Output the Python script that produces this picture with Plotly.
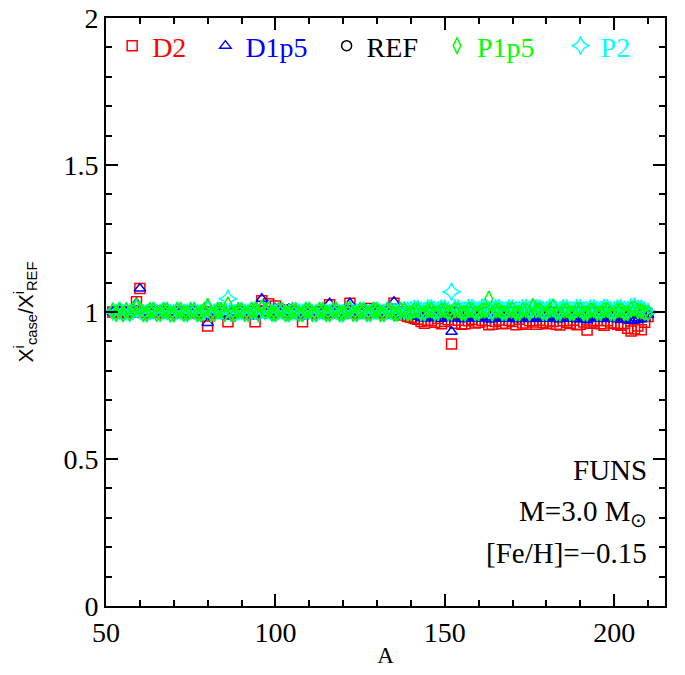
import plotly.graph_objects as go

# mass number A = 52 ... 210, one point per A
A = [52, 53, 54, 55, 56, 57, 58, 59, 60, 61,
     62, 63, 64, 65, 66, 67, 68, 69, 70, 71,
     72, 73, 74, 75, 76, 77, 78, 79, 80, 81,
     82, 83, 84, 85, 86, 87, 88, 89, 90, 91,
     92, 93, 94, 95, 96, 97, 98, 99, 100, 101,
     102, 103, 104, 105, 106, 107, 108, 109, 110, 111,
     112, 113, 114, 115, 116, 117, 118, 119, 120, 121,
     122, 123, 124, 125, 126, 127, 128, 129, 130, 131,
     132, 133, 134, 135, 136, 137, 138, 139, 140, 141,
     142, 143, 144, 145, 146, 147, 148, 149, 150, 151,
     152, 153, 154, 155, 156, 157, 158, 159, 160, 161,
     162, 163, 164, 165, 166, 167, 168, 169, 170, 171,
     172, 173, 174, 175, 176, 177, 178, 179, 180, 181,
     182, 183, 184, 185, 186, 187, 188, 189, 190, 191,
     192, 193, 194, 195, 196, 197, 198, 199, 200, 201,
     202, 203, 204, 205, 206, 207, 208, 209, 210]

REF = [1.0, 1.0, 1.0, 1.0, 1.0, 1.0, 1.0, 1.0, 1.0, 1.0,
       1.0, 1.0, 1.0, 1.0, 1.0, 1.0, 1.0, 1.0, 1.0, 1.0,
       1.0, 1.0, 1.0, 1.0, 1.0, 1.0, 1.0, 1.0, 1.0, 1.0,
       1.0, 1.0, 1.0, 1.0, 1.0, 1.0, 1.0, 1.0, 1.0, 1.0,
       1.0, 1.0, 1.0, 1.0, 1.0, 1.0, 1.0, 1.0, 1.0, 1.0,
       1.0, 1.0, 1.0, 1.0, 1.0, 1.0, 1.0, 1.0, 1.0, 1.0,
       1.0, 1.0, 1.0, 1.0, 1.0, 1.0, 1.0, 1.0, 1.0, 1.0,
       1.0, 1.0, 1.0, 1.0, 1.0, 1.0, 1.0, 1.0, 1.0, 1.0,
       1.0, 1.0, 1.0, 1.0, 1.0, 1.0, 1.0, 1.0, 1.0, 1.0,
       1.0, 1.0, 1.0, 1.0, 1.0, 1.0, 1.0, 1.0, 1.0, 1.0,
       1.0, 1.0, 1.0, 1.0, 1.0, 1.0, 1.0, 1.0, 1.0, 1.0,
       1.0, 1.0, 1.0, 1.0, 1.0, 1.0, 1.0, 1.0, 1.0, 1.0,
       1.0, 1.0, 1.0, 1.0, 1.0, 1.0, 1.0, 1.0, 1.0, 1.0,
       1.0, 1.0, 1.0, 1.0, 1.0, 1.0, 1.0, 1.0, 1.0, 1.0,
       1.0, 1.0, 1.0, 1.0, 1.0, 1.0, 1.0, 1.0, 1.0, 1.0,
       1.0, 1.0, 1.0, 1.0, 1.0, 1.0, 1.0, 1.0, 1.0]

D2 = [1.000, 0.998, 1.002, 0.997, 1.001, 0.999, 1.002, 1.035, 1.080, 0.998,
      1.002, 0.997, 1.001, 0.998, 1.003, 0.996, 1.000, 0.998, 1.002, 0.997,
      1.001, 0.996, 1.000, 0.998, 1.002, 0.997, 1.001, 0.995, 0.952, 0.996,
      1.000, 0.997, 1.002, 0.996, 0.967, 0.998, 1.003, 0.996, 1.001, 0.998,
      0.996, 1.002, 0.967, 0.998, 1.038, 1.002, 1.028, 0.997, 1.020, 1.001,
      1.005, 0.998, 1.008, 0.997, 0.995, 1.001, 0.967, 0.998, 1.002, 0.996,
      1.001, 0.997, 1.002, 0.996, 1.025, 0.998, 1.001, 0.997, 0.995, 1.002,
      1.030, 0.997, 1.002, 0.998, 1.001, 0.996, 1.012, 0.998, 1.005, 0.997,
      0.998, 1.002, 0.996, 1.030, 0.995, 0.990, 0.993, 0.985, 0.982, 0.978,
      0.975, 0.968, 0.962, 0.972, 0.970, 0.965, 0.978, 0.960, 0.968, 0.974,
      0.891, 0.962, 0.972, 0.958, 0.960, 0.970, 0.975, 0.963, 0.965, 0.972,
      0.970, 0.957, 0.958, 0.968, 0.973, 0.960, 0.962, 0.971, 0.968, 0.957,
      0.975, 0.963, 0.958, 0.970, 0.966, 0.958, 0.972, 0.964, 0.960, 0.969,
      0.968, 0.958, 0.956, 0.970, 0.965, 0.961, 0.972, 0.957, 0.958, 0.966,
      0.939, 0.962, 0.966, 0.971, 0.960, 0.955, 0.970, 0.963, 0.962, 0.958,
      0.955, 0.961, 0.945, 0.935, 0.942, 0.952, 0.940, 0.965, 0.985]

D1p5 = [1.000, 0.999, 1.001, 0.998, 1.000, 0.999, 1.001, 1.030, 1.080, 0.999,
        1.001, 0.998, 1.000, 0.999, 1.002, 0.997, 1.000, 0.999, 1.001, 0.998,
        1.001, 0.997, 1.000, 0.999, 1.001, 0.998, 1.000, 0.996, 0.963, 0.997,
        1.000, 0.998, 1.001, 0.997, 0.985, 0.999, 1.002, 0.997, 1.001, 0.999,
        0.997, 1.001, 0.985, 0.999, 1.045, 1.001, 1.020, 0.998, 1.012, 1.001,
        1.003, 0.999, 1.010, 0.998, 0.996, 1.000, 0.985, 0.999, 1.001, 0.997,
        1.001, 0.998, 1.001, 0.997, 1.030, 0.999, 1.001, 0.998, 0.997, 1.001,
        1.030, 0.998, 1.001, 0.999, 1.000, 0.997, 1.008, 0.999, 1.003, 0.998,
        0.999, 1.001, 0.997, 1.035, 0.997, 0.993, 0.995, 0.990, 0.988, 0.986,
        0.984, 0.980, 0.978, 0.983, 0.982, 0.979, 0.986, 0.977, 0.980, 0.984,
        0.933, 0.978, 0.982, 0.976, 0.976, 0.981, 0.984, 0.978, 0.978, 0.982,
        0.982, 0.975, 0.975, 0.980, 0.983, 0.977, 0.977, 0.982, 0.980, 0.975,
        0.984, 0.978, 0.976, 0.981, 0.980, 0.976, 0.983, 0.979, 0.977, 0.981,
        0.981, 0.976, 0.975, 0.980, 0.979, 0.977, 0.983, 0.975, 0.976, 0.980,
        0.972, 0.978, 0.980, 0.982, 0.977, 0.976, 0.982, 0.978, 0.978, 0.975,
        0.974, 0.977, 0.972, 0.970, 0.972, 0.974, 0.975, 0.980, 0.990]

P1p5 = [1.004, 0.995, 1.006, 0.993, 1.005, 0.996, 1.007, 1.020, 1.010, 0.994,
        0.994, 1.006, 1.006, 0.994, 0.996, 1.005, 1.005, 0.993, 0.993, 1.006,
        1.006, 0.995, 0.995, 1.004, 1.004, 0.994, 0.994, 1.006, 1.020, 0.995,
        0.995, 1.006, 1.006, 0.994, 1.025, 0.995, 0.994, 1.005, 1.005, 0.994,
        0.995, 1.006, 1.006, 0.994, 1.015, 1.005, 1.008, 0.995, 0.994, 1.006,
        1.006, 0.994, 0.995, 1.005, 1.004, 0.994, 0.993, 1.006, 1.006, 0.995,
        0.995, 1.006, 1.005, 0.994, 0.994, 1.005, 1.006, 0.995, 0.995, 1.006,
        1.008, 0.995, 0.994, 1.005, 1.005, 0.995, 0.996, 1.006, 1.006, 0.994,
        0.994, 1.005, 1.005, 0.995, 0.995, 1.006, 1.006, 0.995, 0.996, 1.005,
        1.005, 0.995, 0.995, 1.006, 1.007, 0.996, 0.996, 1.006, 1.006, 0.997,
        0.998, 1.006, 1.006, 0.996, 0.995, 1.007, 1.007, 0.996, 0.996, 1.006,
        1.006, 1.045, 0.995, 1.006, 1.006, 0.996, 0.996, 1.007, 1.007, 0.995,
        0.995, 1.006, 1.006, 0.996, 1.020, 1.006, 1.006, 0.996, 0.996, 1.007,
        1.018, 0.996, 0.995, 1.006, 1.006, 0.996, 0.996, 1.007, 1.007, 0.995,
        0.995, 1.006, 1.006, 0.996, 0.996, 1.007, 1.007, 0.995, 0.995, 1.006,
        1.006, 0.996, 0.996, 1.008, 1.012, 1.003, 1.003, 0.998, 0.996]

P2 = [1.002, 0.997, 1.004, 0.996, 1.003, 0.997, 1.004, 1.012, 1.005, 0.996,
      0.996, 1.003, 1.004, 0.997, 0.997, 1.004, 1.003, 0.996, 0.996, 1.004,
      1.003, 0.997, 0.997, 1.004, 1.004, 0.996, 0.996, 1.003, 1.010, 0.997,
      0.997, 1.004, 1.004, 0.996, 1.045, 0.997, 0.996, 1.003, 1.003, 0.997,
      0.997, 1.004, 1.004, 0.996, 1.010, 1.003, 1.006, 0.997, 0.997, 1.004,
      1.004, 0.996, 0.996, 1.003, 1.003, 0.997, 0.997, 1.004, 1.004, 0.996,
      0.996, 1.003, 1.003, 0.997, 0.997, 1.004, 1.004, 0.996, 0.996, 1.004,
      1.006, 0.997, 0.997, 1.004, 1.004, 0.996, 0.996, 1.004, 1.004, 0.997,
      0.997, 1.004, 1.004, 0.998, 0.998, 1.005, 1.005, 1.004, 1.006, 1.010,
      1.010, 1.004, 1.004, 1.012, 1.012, 1.006, 1.006, 1.011, 1.011, 1.005,
      1.069, 1.012, 1.012, 1.005, 1.005, 1.013, 1.013, 1.006, 1.006, 1.014,
      1.015, 1.007, 1.007, 1.013, 1.013, 1.006, 1.006, 1.012, 1.012, 1.006,
      1.006, 1.013, 1.013, 1.008, 1.010, 1.012, 1.012, 1.006, 1.006, 1.014,
      1.014, 1.007, 1.007, 1.012, 1.012, 1.006, 1.006, 1.013, 1.013, 1.006,
      1.006, 1.012, 1.012, 1.007, 1.007, 1.013, 1.013, 1.006, 1.006, 1.012,
      1.012, 1.007, 1.007, 1.015, 1.018, 1.010, 1.010, 1.004, 1.000]

SERIF = "Liberation Serif"
PAD = "&nbsp;&nbsp;"

# drawing order (bottom -> top); legendrank keeps the reference legend order
series = [
    ("REF", REF, "black", "circle-open", 10, 3, PAD),
    ("D2", D2, "red", "square-open", 10, 1, PAD),
    ("D1p5", D1p5, "blue", "triangle-up-open", 10, 2, PAD),
    ("P2", P2, "cyan", "star-diamond-open", 13, 5, ""),
    ("P1p5", P1p5, "#00ff00", "diamond-tall-open", 11, 4, "&nbsp;&nbsp;&nbsp;"),
]

fig = go.Figure()
for name, vals, col, sym, size, rank, pad in series:
    fig.add_trace(go.Scatter(
        x=A, y=vals, mode="markers",
        name='<span style="color:%s">%s</span>%s' % (col, name, pad),
        legendrank=rank,
        marker=dict(symbol=sym, size=size, color=col, line=dict(width=1.5, color=col)),
    ))

axis_common = dict(
    showline=True, linewidth=2, linecolor="black", mirror="ticks",
    ticks="inside", ticklen=12, tickwidth=1.5, tickcolor="black",
    showgrid=False, zeroline=False, automargin=False, ticklabeloverflow="allow",
    tickfont=dict(family=SERIF, size=28, color="black"),
)

fig.update_xaxes(range=[50, 215], tick0=50, dtick=50,
                 minor=dict(dtick=10, ticks="inside", ticklen=6, tickcolor="black"),
                 title=dict(text="A", font=dict(family=SERIF, size=23, color="black"), standoff=0),
                 **axis_common)
fig.update_yaxes(range=[0, 2], tickvals=[0, 0.5, 1, 1.5, 2], ticktext=["0", "0.5", "1", "1.5", "2"],
                 minor=dict(dtick=0.1, ticks="inside", ticklen=6, tickcolor="black"),
                 title=dict(text="X<sup>i</sup><sub>case</sub>/X<sup>i</sup><sub>REF</sub>",
                            font=dict(family="Liberation Sans", size=21, color="black"), standoff=24),
                 **axis_common)

notes = ["FUNS", "M=3.0 M<sub>\u2299</sub>", "[Fe/H]=\u22120.15"]
note_y = [0.231, 0.158, 0.090]
for txt, yy in zip(notes, note_y):
    fig.add_annotation(text=txt, xref="paper", yref="paper", x=0.972, y=yy,
                       xanchor="right", yanchor="middle", showarrow=False,
                       font=dict(family=SERIF, size=29, color="black"))

fig.update_layout(
    width=685, height=675,
    margin=dict(l=106, r=20, t=18, b=69),
    plot_bgcolor="white", paper_bgcolor="white",
    showlegend=True,
    legend=dict(orientation="h", x=0.011, y=0.995, xanchor="left", yanchor="top",
                bgcolor="rgba(0,0,0,0)", font=dict(family=SERIF, size=28, color="black"),
                itemwidth=30),
)

# drop the default 8px page margin so the figure sits at the window corner
fig.write_html("out.html", config={"displayModeBar": False},
               post_script="document.body.style.margin='0';")
